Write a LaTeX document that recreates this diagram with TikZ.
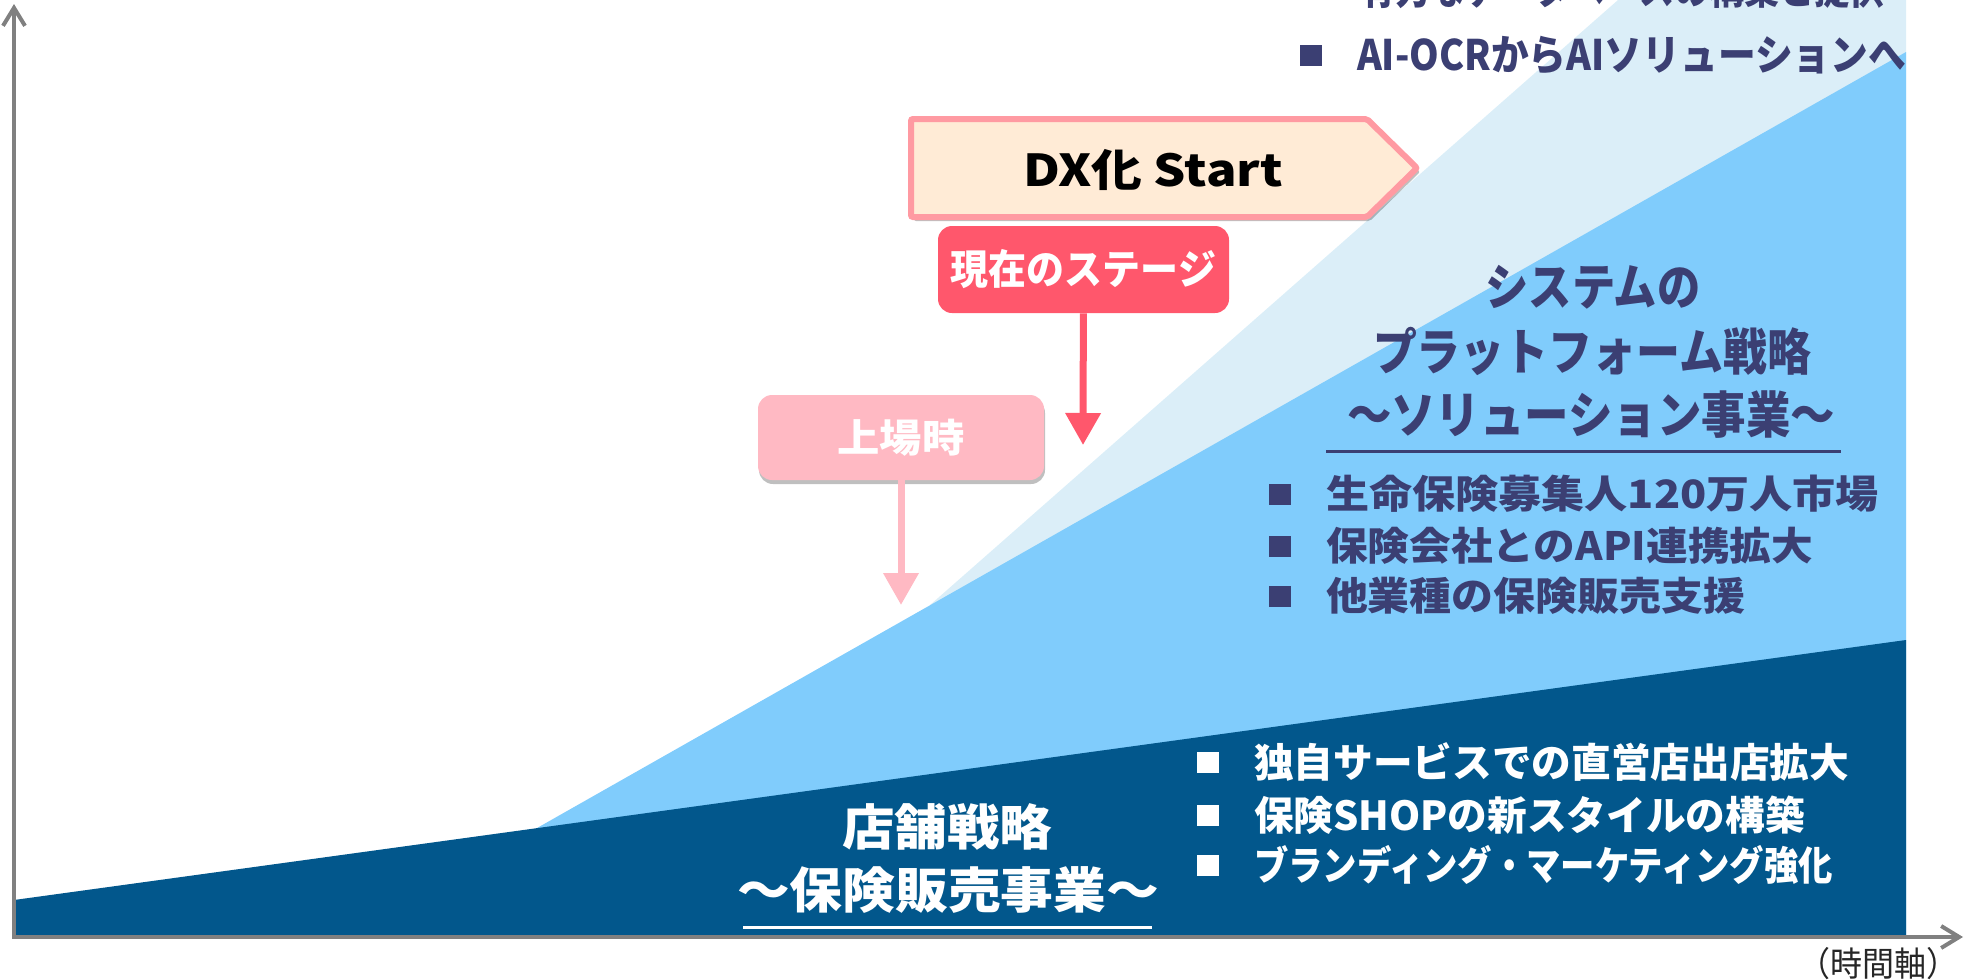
\documentclass[tikz,border=0pt]{standalone}
\usepackage{fontspec}
\setmainfont{Noto Sans CJK JP}
\usepackage{graphicx}
\usetikzlibrary{arrows.meta,shadows}
\newdimen\pxu \pxu=0.5pt
\newcommand{\fitw}[2]{\resizebox{#1\pxu}{\height}{#2}}
\definecolor{pale}{RGB}{219,238,248}
\definecolor{lblue}{RGB}{128,204,252}
\definecolor{dblue}{RGB}{2,87,140}
\definecolor{navy}{RGB}{59,63,115}
\definecolor{nowred}{RGB}{255,87,108}
\definecolor{ipopink}{RGB}{255,185,195}
\definecolor{peach}{RGB}{255,235,214}
\definecolor{peachline}{RGB}{255,154,162}
\definecolor{axisgray}{RGB}{128,128,128}
\begin{document}
\begin{tikzpicture}[x=0.5pt,y=-0.5pt,
  txt/.style={inner sep=0pt, outer sep=0pt},
  headtxt/.style={txt, text=navy, font=\bfseries\fontsize{25pt}{25pt}\selectfont},
  navybul/.style={txt, text=navy, anchor=west, font=\bfseries\fontsize{19.5pt}{20pt}\selectfont},
  whitebul/.style={txt, text=white, anchor=west, font=\bfseries\fontsize{20pt}{20pt}\selectfont},
  storetxt/.style={txt, text=white, font=\bfseries\fontsize{24.5pt}{25pt}\selectfont},
  sqnavy/.style={fill=navy, inner sep=0pt, minimum width=11pt, minimum height=10.5pt},
  sqwhite/.style={fill=white, inner sep=0pt, minimum width=11pt, minimum height=10.5pt},
  axisline/.style={draw=axisgray, line width=2pt, line join=miter,
     {Straight Barb[length=9pt,width=11pt]}-{Straight Barb[length=9pt,width=11pt]}},
  nowbox/.style={fill=nowred, rounded corners=7pt, minimum width=145.5pt, minimum height=43.5pt, inner sep=0pt, text=white,
     font=\bfseries\fontsize{20.5pt}{21pt}\selectfont},
  ipobox/.style={fill=ipopink, rounded corners=7pt, minimum width=143pt, minimum height=42.5pt, inner sep=0pt, text=white,
     font=\bfseries\fontsize{19.5pt}{20pt}\selectfont,
     drop shadow={shadow xshift=0.5pt, shadow yshift=-2pt, fill=black, opacity=0.25}},
  nowarrow/.style={draw=nowred, line width=3.5pt, -{Triangle[width=17pt,length=16pt]}},
  ipoarrow/.style={draw=ipopink, line width=3.5pt, -{Triangle[width=17pt,length=16pt]}},
  dxshape/.style={fill=peach, draw=peachline, line width=3pt, rounded corners=1pt,
     drop shadow={shadow xshift=1.5pt, shadow yshift=-2pt, fill=black, opacity=0.25}}
]
\useasboundingbox (0,0) rectangle (1966,980);
% regions
\fill[pale] (930,605) -- (1618,0) -- (1906,0) -- (1906,640) -- cycle;
\fill[lblue] (530,832) -- (1906,52) -- (1906,935) -- (530,935) -- cycle;
\fill[dblue] (14,900) -- (1906,640) -- (1906,935) -- (14,935) -- cycle;
% axes
\coordinate (O) at (14,937);
\coordinate (Ytip) at (14,4);
\coordinate (Xtip) at (1963,937);
\draw[axisline] (Ytip) -- (O) -- (Xtip);
\node[txt, text=black!85, font=\fontsize{17pt}{17pt}\selectfont] (timeax) at (1878,964) {\fitw{160}{（時間軸）}};
% top clipped line and AI-OCR line
\node[navybul, font=\bfseries\fontsize{21pt}{21pt}\selectfont] (topline) at (1360,-12) {\fitw{525}{有力なデータベースの構築と提供}};
\node[sqnavy] (bai) at (1311,55) {};
\node[navybul, font=\bfseries\fontsize{21pt}{21pt}\selectfont] (ailine) at (1357,55) {\fitw{549}{AI-OCRからAIソリューションへ}};
% DX start
\path[dxshape] (911,119) -- (1367,119) -- (1417,168) -- (1367,217) -- (911,217) -- cycle;
\node[txt, text=black, font=\bfseries\fontsize{22pt}{22pt}\selectfont] (dx) at (1153,170) {\fitw{260}{DX化 Start}};
% current stage
\node[nowbox] (now) at (1083.5,269.5) {\fitw{265}{現在のステージ}};
\coordinate (nowtip) at (1083,445);
\draw[nowarrow] (now) -- (nowtip);
% listing
\node[ipobox] (ipo) at (901,437.5) {\fitw{127}{上場時}};
\coordinate (ipotip) at (901,605);
\draw[ipoarrow] (ipo) -- (ipotip);
% platform heading
\node[headtxt] (h1) at (1593,287) {\fitw{215}{システムの}};
\node[headtxt] (h2) at (1592,351) {\fitw{438}{プラットフォーム戦略}};
\node[headtxt] (h3) at (1591,415) {\fitw{488}{～ソリューション事業～}};
\coordinate (ul1a) at (1326,451);
\coordinate (ul1b) at (1841,451);
\draw[navy, line width=1.5pt] (ul1a) -- (ul1b);
% navy bullets
\node[sqnavy] (nb1) at (1280,494) {};
\node[navybul] (n1) at (1326,494) {\fitw{553}{生命保険募集人120万人市場}};
\node[sqnavy] (nb2) at (1280,546) {};
\node[navybul] (n2) at (1326,546) {\fitw{487}{保険会社とのAPI連携拡大}};
\node[sqnavy] (nb3) at (1280,596) {};
\node[navybul] (n3) at (1326,596) {\fitw{419}{他業種の保険販売支援}};
% store strategy
\node[storetxt] (s1) at (947,827) {\fitw{210}{店舗戦略}};
\node[storetxt] (s2) at (948,890) {\fitw{422}{～保険販売事業～}};
\coordinate (ul2a) at (743,927);
\coordinate (ul2b) at (1152,927);
\draw[white, line width=1.5pt] (ul2a) -- (ul2b);
% white bullets
\node[sqwhite] (wb1) at (1208,762) {};
\node[whitebul] (w1) at (1254,762) {\fitw{595}{独自サービスでの直営店出店拡大}};
\node[sqwhite] (wb2) at (1208,815) {};
\node[whitebul] (w2) at (1254,815) {\fitw{551}{保険SHOPの新スタイルの構築}};
\node[sqwhite] (wb3) at (1208,865) {};
\node[whitebul] (w3) at (1254,865) {\fitw{579}{ブランディング・マーケティング強化}};
\end{tikzpicture}
\end{document}
